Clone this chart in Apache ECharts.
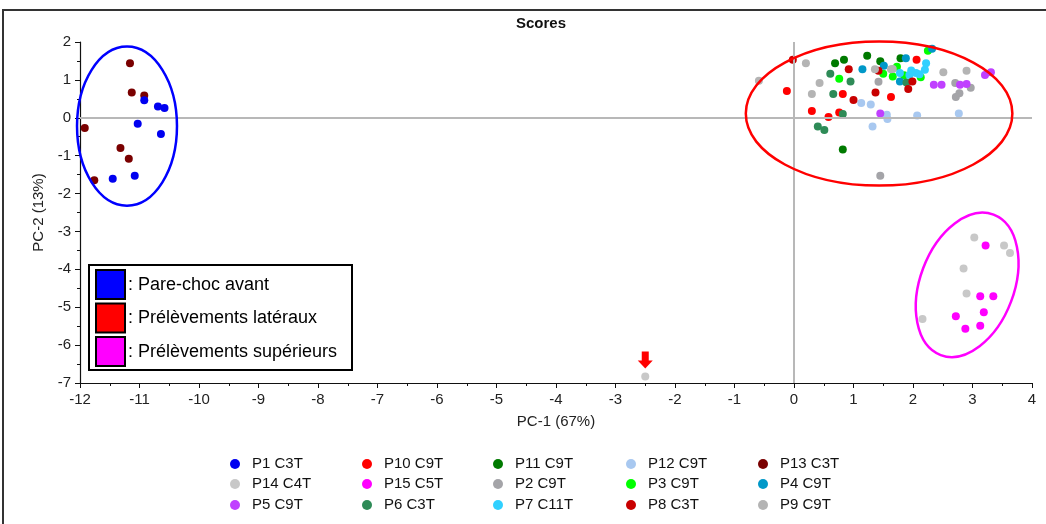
<!DOCTYPE html>
<html>
<head>
<meta charset="utf-8">
<script src="https://cdn.jsdelivr.net/npm/echarts@6/dist/echarts.min.js"></script>
<style>
  html, body { margin: 0; padding: 0; background: #fff; }
  #chart { width: 1046px; height: 524px; }
</style>
</head>
<body>
<div id="chart"></div>
<script>
// PCA score plot: PC-1 vs PC-2, one scatter series per sample
const seriesNames = [
  'P1 C3T', 'P10 C9T', 'P11 C9T', 'P12 C9T', 'P13 C3T',
  'P14 C4T', 'P15 C5T', 'P2 C9T', 'P3 C9T', 'P4 C9T',
  'P5 C9T', 'P6 C3T', 'P7 C11T', 'P8 C3T', 'P9 C9T'
];
const seriesColors = [
  '#0000f0', '#ff0000', '#007a00', '#a8c8f0', '#7a0000',
  '#c8c8c8', '#ff00ff', '#a4a4a8', '#00ff00', '#0098c8',
  '#c040ff', '#2e8b57', '#30d0ff', '#c80000', '#b4b4b4'
];

const P1 = [[-10.92, 0.46], [-10.69, 0.30], [-10.58, 0.26], [-11.03, -0.16], [-10.64, -0.43], [-11.45, -1.61], [-11.08, -1.53]];
const P10 = [[-0.12, 0.71], [0.82, 0.63], [1.63, 0.55], [0.30, 0.18], [0.58, 0.02], [0.76, 0.14], [2.06, 1.53]];
const P11 = [[0.69, 1.44], [0.84, 1.53], [1.23, 1.64], [1.45, 1.49], [0.82, -0.84], [1.79, 1.57]];
const P12 = [[1.13, 0.39], [1.29, 0.35], [1.56, 0.08], [1.57, -0.03], [1.32, -0.23], [2.07, 0.06], [2.77, 0.11]];
const P13 = [[-11.16, 1.44], [-11.13, 0.67], [-10.92, 0.59], [-11.92, -0.27], [-11.32, -0.80], [-11.18, -1.08], [-11.76, -1.65]];
const P14 = [[3.03, -3.16], [3.53, -3.37], [3.63, -3.57], [2.85, -3.98], [2.90, -4.64], [2.16, -5.31], [-2.50, -6.83]];
const P15 = [[3.22, -3.37], [3.13, -4.71], [3.35, -4.71], [3.19, -5.13], [2.72, -5.24], [2.88, -5.57], [3.13, -5.49]];
const P2 = [[1.45, -1.53], [2.71, 0.92], [2.97, 0.79], [2.78, 0.65], [2.72, 0.55], [1.42, 0.95]];
const P3 = [[0.76, 1.03], [1.50, 1.16], [1.66, 1.09], [1.73, 1.35], [1.85, 1.12], [2.13, 1.07], [2.25, 1.77]];
const P4 = [[1.15, 1.28], [1.51, 1.37], [1.88, 1.57], [1.78, 0.96], [2.32, 1.82]];
const P5 = [[1.45, 0.11], [2.35, 0.87], [2.48, 0.87], [2.79, 0.87], [2.90, 0.89], [3.21, 1.13], [3.31, 1.20]];
const P6 = [[0.61, 1.16], [0.95, 0.96], [0.66, 0.63], [0.82, 0.10], [0.40, -0.23], [0.51, -0.32], [1.89, 0.93]];
const P7 = [[1.78, 1.18], [1.97, 1.25], [1.94, 1.13], [2.05, 1.18], [2.11, 1.15], [2.20, 1.27], [2.22, 1.44]];
const P8 = [[-0.02, 1.53], [0.92, 1.28], [1.00, 0.47], [1.37, 0.67], [1.99, 0.96], [1.92, 0.76], [1.42, 1.24]];
const P9 = [[0.20, 1.44], [-0.59, 0.98], [0.43, 0.92], [0.30, 0.63], [1.36, 1.28], [1.63, 1.28], [2.51, 1.20], [2.90, 1.24], [1.66, 1.29]];

const seriesData = [P1, P10, P11, P12, P13, P14, P15, P2, P3, P4, P5, P6, P7, P8, P9];

// axis ranges
const xTicks = { min: -12, max: 4, interval: 1 };
const yTicks = { min: -7, max: 2, interval: 1 };

// group annotations: ellipse centre and half-axes in data units, tilt in radians
const groupEllipses = [
  { cx: -11.21, cy: -0.22, rx: 0.84, ry: 2.10, tilt: 0, color: '#0000ff' },
  { cx: 1.43, cy: 0.11, rx: 2.24, ry: 1.90, tilt: 0, color: '#ff0000' },
  { cx: 2.91, cy: -4.41, rx: 0.79, ry: 1.98, tilt: -0.36, color: '#ff00ff' }
];
const groupLabels = [': Pare-choc avant', ': Prélèvements latéraux', ': Prélèvements supérieurs'];
const groupColors = ['#0000ff', '#ff0000', '#ff00ff'];
// highlighted sample (arrow)
const flaggedPoint = [-2.50, -6.83];

const FONT = '"Liberation Sans", Arial, sans-serif';

const chart = echarts.init(document.getElementById('chart'), null, { renderer: 'canvas' });

// legend grid: 5 columns x 3 rows, one legend component per entry
const legendColumnX = [235, 367, 498, 631, 763];
const legendRowY = [464, 484, 505];
const legends = seriesNames.map((name, i) => ({
  left: legendColumnX[i % 5] - 5,
  top: legendRowY[Math.floor(i / 5)] - 9,
  padding: 0,
  itemWidth: 10,
  itemHeight: 11,
  icon: 'circle',
  selectedMode: false,
  data: [name],
  textStyle: { fontFamily: FONT, fontSize: 15, color: '#111', padding: [0, 0, 0, 7], lineHeight: 18 }
}));

const scatterSeries = seriesNames.map((name, i) => ({
  name,
  type: 'scatter',
  data: seriesData[i],
  symbol: 'circle',
  symbolSize: 8,
  itemStyle: { color: seriesColors[i], opacity: 1 },
  z: name === 'P1 C3T' ? 4 : 3,
  silent: true
}));

// zero reference lines
const zeroLines = {
  name: 'zero',
  type: 'scatter',
  data: [],
  z: 1,
  markLine: {
    silent: true,
    symbol: 'none',
    label: { show: false },
    lineStyle: { color: '#b8b8b8', width: 2, type: 'solid' },
    data: [{ xAxis: 0 }, { yAxis: 0 }]
  }
};

const axisCommon = {
  type: 'value',
  axisLine: { show: true, onZero: false, lineStyle: { color: '#111', width: 1.2 } },
  axisTick: { show: true, inside: false, length: 5, lineStyle: { color: '#111' } },
  minorTick: { show: true, splitNumber: 2, length: 3, lineStyle: { color: '#111' } },
  splitLine: { show: false },
  axisLabel: { fontFamily: FONT, fontSize: 15, color: '#222' },
  nameTextStyle: { fontFamily: FONT, fontSize: 15, color: '#222' }
};

chart.setOption({
  animation: false,
  backgroundColor: '#fff',
  title: {
    text: 'Scores',
    left: 536,
    top: 11,
    textAlign: 'center',
    textStyle: { fontFamily: FONT, fontSize: 15, fontWeight: 'bold', color: '#111' }
  },
  grid: { left: 80, right: 14, top: 42, bottom: 141 },
  xAxis: Object.assign({}, axisCommon, {
    min: xTicks.min, max: xTicks.max, interval: xTicks.interval,
    name: 'PC-1 (67%)', nameLocation: 'middle', nameGap: 31,
    axisLabel: Object.assign({}, axisCommon.axisLabel, { margin: 9 })
  }),
  yAxis: Object.assign({}, axisCommon, {
    min: yTicks.min, max: yTicks.max, interval: yTicks.interval,
    name: 'PC-2 (13%)', nameLocation: 'middle', nameGap: 32, nameRotate: 90,
    axisLabel: Object.assign({}, axisCommon.axisLabel, { margin: 9 })
  }),
  legend: legends,
  series: [zeroLines].concat(scatterSeries)
});

// annotations placed from data coordinates
const toPx = (p) => chart.convertToPixel({ gridIndex: 0 }, p);
const graphics = [];

// outer frame
graphics.push({
  type: 'rect', silent: true,
  shape: { x: 3, y: 10, width: 1100, height: 600 },
  style: { fill: 'none', stroke: '#333', lineWidth: 2 }
});

groupEllipses.forEach((e) => {
  const c = toPx([e.cx, e.cy]);
  const corner = toPx([e.cx + e.rx, e.cy + e.ry]);
  graphics.push({
    type: 'ellipse', silent: true, z: 10,
    x: c[0], y: c[1], rotation: e.tilt,
    shape: { cx: 0, cy: 0, rx: corner[0] - c[0], ry: c[1] - corner[1] },
    style: { fill: 'none', stroke: e.color, lineWidth: 2.5 }
  });
});

// red arrow pointing down at the flagged sample
const tip = toPx(flaggedPoint);
const tx = tip[0], ty = tip[1] - 8;
graphics.push({
  type: 'polygon', silent: true, z: 10,
  shape: {
    points: [
      [tx - 3.5, ty - 17], [tx + 3.5, ty - 17], [tx + 3.5, ty - 8],
      [tx + 7.5, ty - 8], [tx, ty], [tx - 7.5, ty - 8], [tx - 3.5, ty - 8]
    ]
  },
  style: { fill: '#ff0000' }
});

// group key box
const box = { x: 89, y: 265, w: 263, h: 105 };
graphics.push({
  type: 'rect', silent: true, z: 10,
  shape: { x: box.x, y: box.y, width: box.w, height: box.h },
  style: { fill: '#fff', stroke: '#000', lineWidth: 2 }
});
groupLabels.forEach((t, i) => {
  const y0 = box.y + 5 + i * 33.5;
  graphics.push({
    type: 'rect', silent: true, z: 11,
    shape: { x: box.x + 7, y: y0, width: 29, height: 29 },
    style: { fill: groupColors[i], stroke: '#000', lineWidth: 2 }
  });
  graphics.push({
    type: 'text', silent: true, z: 11,
    x: box.x + 39, y: y0 + 15,
    style: { text: t, fontFamily: FONT, fontSize: 18, fill: '#000', textVerticalAlign: 'middle', verticalAlign: 'middle' }
  });
});

chart.setOption({ graphic: graphics });
</script>
</body>
</html>
